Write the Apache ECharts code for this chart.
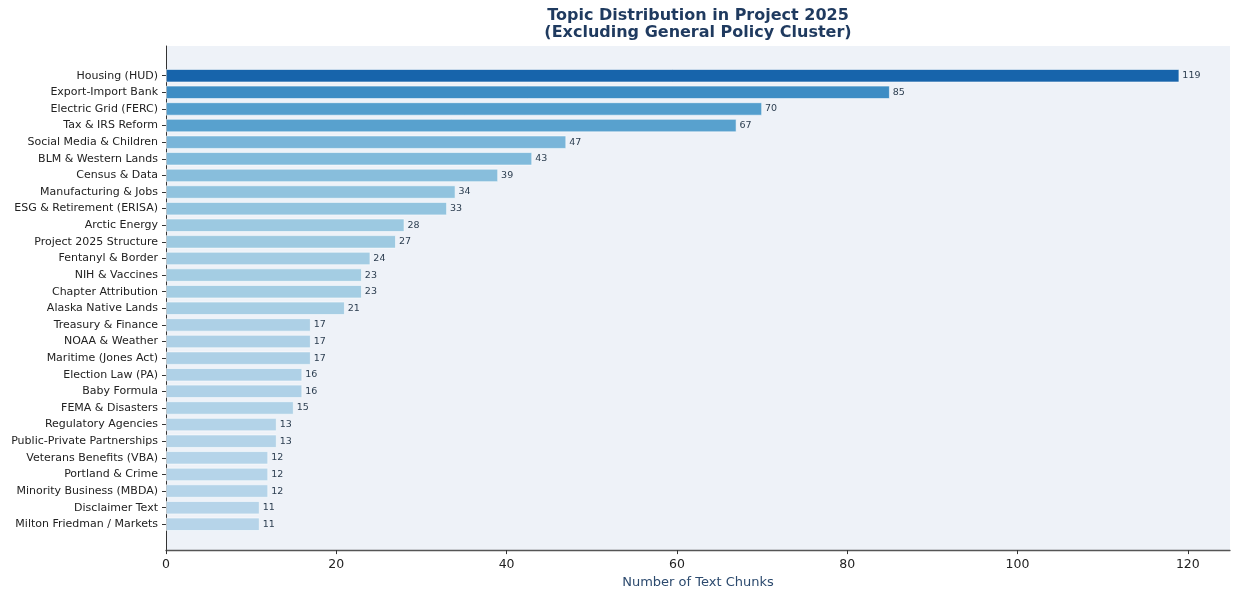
<!DOCTYPE html>
<html>
<head>
<meta charset="utf-8">
<script src="https://cdn.jsdelivr.net/npm/echarts@6/dist/echarts.min.js"></script>
<style>
html,body{margin:0;padding:0;background:#fff;}
#chart{width:1233px;height:594px;}
</style>
</head>
<body>
<div id="chart"></div>
<script>
const categories = [
  "Housing (HUD)", "Export-Import Bank", "Electric Grid (FERC)", "Tax & IRS Reform",
  "Social Media & Children", "BLM & Western Lands", "Census & Data", "Manufacturing & Jobs",
  "ESG & Retirement (ERISA)", "Arctic Energy", "Project 2025 Structure", "Fentanyl & Border",
  "NIH & Vaccines", "Chapter Attribution", "Alaska Native Lands", "Treasury & Finance",
  "NOAA & Weather", "Maritime (Jones Act)", "Election Law (PA)", "Baby Formula",
  "FEMA & Disasters", "Regulatory Agencies", "Public-Private Partnerships", "Veterans Benefits (VBA)",
  "Portland & Crime", "Minority Business (MBDA)", "Disclaimer Text", "Milton Friedman / Markets"
];
const counts = [119, 85, 70, 67, 47, 43, 39, 34, 33, 28, 27, 24, 23, 23, 21, 17, 17, 17, 16, 16, 15, 13, 13, 12, 12, 12, 11, 11];
const xTicks = [0, 20, 40, 60, 80, 100, 120];
const titleLines = ["Topic Distribution in Project 2025", "(Excluding General Policy Cluster)"];
const xAxisName = "Number of Text Chunks";

// Matplotlib "Blues" colormap stops
const bluesStops = ["#f7fbff","#deebf7","#c6dbef","#9ecae1","#6baed6","#4292c6","#2171b5","#08519c","#08306b"];
function hex2rgb(h){return [parseInt(h.substr(1,2),16),parseInt(h.substr(3,2),16),parseInt(h.substr(5,2),16)];}
function blues(t){
  const n = bluesStops.length - 1;
  const p = Math.max(0, Math.min(1, t)) * n;
  const i = Math.min(n - 1, Math.floor(p));
  const f = p - i;
  const a = hex2rgb(bluesStops[i]), b = hex2rgb(bluesStops[i+1]);
  const c = a.map((v,k)=>Math.round(v + (b[k]-v)*f));
  return 'rgb(' + c.join(',') + ')';
}
const vmin = Math.min(...counts), vmax = Math.max(...counts);
function colorFor(v){ return blues(0.3 + 0.5 * (v - vmin) / (vmax - vmin)); }

const xMax = vmax * 1.05;
const plotLeft = 166, plotRight = 3, plotTop = 46, plotBottom = 40;
const chartH = 594;
const plotH = chartH - plotTop - plotBottom;
// matplotlib-like margins: bars of height 0.8, 5% margin
const n = categories.length;
const span = (n - 1) + 0.8;
const totalUnits = span * 1.1;
const unitPx = plotH / totalUnits;
const bandH = n * unitPx;
const bandTop = plotTop + (plotH - bandH) / 2;

const chart = echarts.init(document.getElementById('chart'), null, {renderer: 'canvas'});
const font = "DejaVu Sans";
chart.setOption({
  animation: false,
  textStyle: {fontFamily: font},
  graphic: [{
    type: 'text',
    x: plotLeft + (1233 - plotLeft - plotRight) / 2,
    y: 7,
    style: {
      text: titleLines.join('\n'),
      fontFamily: font,
      fontWeight: 'bold',
      fontSize: 16,
      lineHeight: 17,
      fill: '#1f3a5f',
      align: 'center',
      verticalAlign: 'top'
    }
  }],
  grid: [
    {left: plotLeft, right: plotRight, top: plotTop, bottom: plotBottom, show: true, backgroundColor: '#eef2f8', borderWidth: 0, containLabel: false},
    {left: plotLeft, right: plotRight, top: bandTop, height: bandH, containLabel: false}
  ],
  xAxis: [
    {
      type: 'value', gridIndex: 0, min: 0, max: xMax,
      axisLine: {show: true, lineStyle: {color: '#555', width: 1.3}},
      axisTick: {show: true, length: 4, lineStyle: {color: '#333'}, customValues: xTicks},
      axisLabel: {color: '#222', fontSize: 12.5, margin: 8, fontFamily: font, customValues: xTicks},
      splitLine: {show: false},
      name: xAxisName, nameLocation: 'middle', nameGap: 25,
      nameTextStyle: {color: '#2c4a6e', fontSize: 13, fontFamily: font}
    },
    {type: 'value', gridIndex: 1, min: 0, max: xMax, show: false}
  ],
  yAxis: [
    {
      type: 'value', gridIndex: 0, min: 0, max: 1,
      axisLine: {show: true, lineStyle: {color: '#333', width: 1}},
      axisTick: {show: false}, axisLabel: {show: false}, splitLine: {show: false}
    },
    {
      type: 'category', gridIndex: 1, data: categories, inverse: true,
      axisLine: {show: false},
      axisTick: {show: true, alignWithLabel: true, length: 4, lineStyle: {color: '#333'}},
      axisLabel: {color: '#222', fontSize: 11, margin: 8, fontFamily: font, interval: 0},
      splitLine: {show: false}
    }
  ],
  series: [{
    type: 'bar',
    xAxisIndex: 1, yAxisIndex: 1,
    data: counts,
    barWidth: '80%',
    itemStyle: {
      color: p => colorFor(p.value),
      borderColor: 'rgba(255,255,255,0.7)',
      borderWidth: 0.8
    },
    label: {
      show: true, position: 'right', distance: 3,
      fontSize: 9.5, color: '#2c3e50', fontFamily: font
    }
  }]
});
</script>
</body>
</html>
